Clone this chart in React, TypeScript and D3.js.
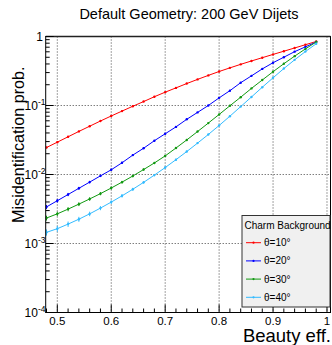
import React from "react";
import * as d3 from "d3";

const effX = [0.48,0.50,0.52,0.54,0.56,0.58,0.60,0.62,0.64,0.66,0.68,0.70,0.72,0.74,0.76,0.78,0.80,0.82,0.84,0.86,0.88,0.90,0.92,0.94,0.96,0.98];
const theta10 = [0.0246,0.0294,0.0352,0.0421,0.0501,0.0596,0.0705,0.0830,0.0975,0.114,0.134,0.156,0.180,0.208,0.239,0.273,0.311,0.351,0.395,0.442,0.493,0.550,0.612,0.682,0.760,0.847];
const theta20 = [0.00339,0.00417,0.00513,0.00631,0.00776,0.00955,0.0117,0.0148,0.0191,0.0240,0.0309,0.0389,0.0490,0.0631,0.0794,0.100,0.129,0.164,0.214,0.269,0.339,0.417,0.501,0.603,0.708,0.832];
const theta30 = [0.00234,0.00269,0.00315,0.00372,0.00442,0.00528,0.00637,0.00775,0.00951,0.0118,0.0147,0.0186,0.0242,0.0317,0.0419,0.0556,0.0741,0.0991,0.132,0.177,0.234,0.309,0.403,0.519,0.661,0.832];
const theta40 = [0.00145,0.00164,0.00191,0.00225,0.00269,0.00326,0.00398,0.00491,0.00611,0.00769,0.00980,0.0126,0.0164,0.0215,0.0285,0.0380,0.0513,0.0700,0.0964,0.133,0.184,0.252,0.343,0.459,0.605,0.785];
const seriesLabels = ["θ=10°", "θ=20°", "θ=30°", "θ=40°"];
const xTicks = [0.5, 0.6, 0.7, 0.8, 0.9, 1.0];
const xTickLabels = ["0.5", "0.6", "0.7", "0.8", "0.9", "1"];
const yDecades = [1e-4, 1e-3, 1e-2, 1e-1, 1];
const yDecadeExp = ["-4", "-3", "-2", "-1", ""];

const colors = ["#ff0000", "#0000ff", "#119911", "#33bbff"];
const FONT = "'Liberation Sans', Arial, Helvetica, sans-serif";

export default function App() {
  const W = 332, H = 345;
  const left = 45.7, right = 330.5, top = 36.5, bottom = 312.5;
  const x = d3.scaleLinear().domain([0.4785, 1.0065]).range([left, right]);
  const y = d3.scaleLog().domain([1e-4, 1]).range([bottom, top]);
  const series = [theta10, theta20, theta30, theta40];
  const line = d3.line<number>().x((_, i) => x(effX[i])).y((d) => y(d));

  const xMinor: number[] = [];
  for (let v = 0.48; v <= 1.0001; v += 0.02) xMinor.push(+v.toFixed(2));
  const yMinor: number[] = [];
  for (let e = -4; e < 0; e++) for (let k = 2; k <= 9; k++) yMinor.push(k * Math.pow(10, e));

  const legX = 242, legY = 215.5, legW = 88, legH = 91.5;
  const entryY = [242.7, 260.9, 279.1, 297.3];

  return (
    <svg width={W} height={H} style={{ position: "absolute", left: 0, top: 0, background: "#fff" }} fontFamily={FONT}>
      <rect x={0} y={0} width={W} height={H} fill="#fff" />
      <text x={189} y={18.5} textAnchor="middle" fontSize={14.5} fill="#000">Default Geometry: 200 GeV Dijets</text>

      {xTicks.map((t) => (
        <line key={"gx" + t} x1={x(t)} x2={x(t)} y1={top} y2={bottom} stroke="#444" strokeWidth={1} strokeDasharray="1,2" />
      ))}
      {yDecades.map((t) => (
        <line key={"gy" + t} x1={left} x2={right} y1={y(t)} y2={y(t)} stroke="#444" strokeWidth={1} strokeDasharray="1,2" />
      ))}

      <defs>
        <clipPath id="plotclip">
          <rect x={left} y={top} width={right - left} height={bottom - top} />
        </clipPath>
      </defs>
      <g clipPath="url(#plotclip)">
        {series.map((s, si) => (
          <g key={"s" + si}>
            <path d={line(s) || ""} fill="none" stroke={colors[si]} strokeWidth={1} />
            {s.map((v, i) => {
              const err = 0.1 * Math.sqrt(0.0015 * v);
              return (
                <g key={i}>
                  <line x1={x(effX[i])} x2={x(effX[i])} y1={y(v + err)} y2={y(Math.max(v - err, 1e-5))} stroke={colors[si]} strokeWidth={1} />
                  <circle cx={x(effX[i])} cy={y(v)} r={1.2} fill={colors[si]} />
                </g>
              );
            })}
          </g>
        ))}
      </g>

      <rect x={left} y={top} width={right - left} height={bottom - top} fill="none" stroke="#000" strokeWidth={1} />
      <line x1={left} x2={right} y1={top} y2={top} stroke="#222" strokeWidth={1.6} />

      {xMinor.map((t) => {
        const major = xTicks.some((m) => Math.abs(m - t) < 1e-6);
        return <line key={"xt" + t} x1={x(t)} x2={x(t)} y1={bottom} y2={bottom - (major ? 8 : 4)} stroke="#000" strokeWidth={1} />;
      })}
      {xTicks.map((t, i) => (
        <text key={"xl" + t} x={x(t)} y={324.5} textAnchor="middle" fontSize={11.5} fill="#000">{xTickLabels[i]}</text>
      ))}

      {yDecades.map((t) => (
        <line key={"yt" + t} x1={left} x2={left + 8} y1={y(t)} y2={y(t)} stroke="#000" strokeWidth={1} />
      ))}
      {yMinor.map((t) => (
        <line key={"ym" + t} x1={left} x2={left + 4} y1={y(t)} y2={y(t)} stroke="#000" strokeWidth={1} />
      ))}
      {yDecades.map((t, i) => (
        yDecadeExp[i] === "" ? (
          <text key={"yl" + t} x={43} y={y(t) + 4} textAnchor="end" fontSize={12} fill="#000">1</text>
        ) : (
          <text key={"yl" + t} x={45.5} y={y(t) + 4.5} textAnchor="end" fontSize={12} fill="#000">
            10<tspan dy={-5} fontSize={8.5}>{yDecadeExp[i]}</tspan>
          </text>
        )
      ))}

      <text transform={`translate(23.5,223) rotate(-90)`} textAnchor="start" fontSize={16.2} fill="#000">Misidentification prob.</text>
      <text x={331} y={342} textAnchor="end" fontSize={18.5} fill="#000">Beauty eff.</text>

      <rect x={legX} y={legY} width={legW} height={legH} fill="#f0f0f0" stroke="#333" strokeWidth={1} />
      <text x={244.5} y={228.5} fontSize={10} fill="#000">Charm Background</text>
      {seriesLabels.map((lab, i) => (
        <g key={"lg" + i}>
          <line x1={246} x2={261} y1={entryY[i]} y2={entryY[i]} stroke={colors[i]} strokeWidth={1} />
          <circle cx={253.5} cy={entryY[i]} r={1.1} fill={colors[i]} />
          <text x={264} y={entryY[i] + 3.5} fontSize={10} fill="#000">{lab}</text>
        </g>
      ))}
    </svg>
  );
}
